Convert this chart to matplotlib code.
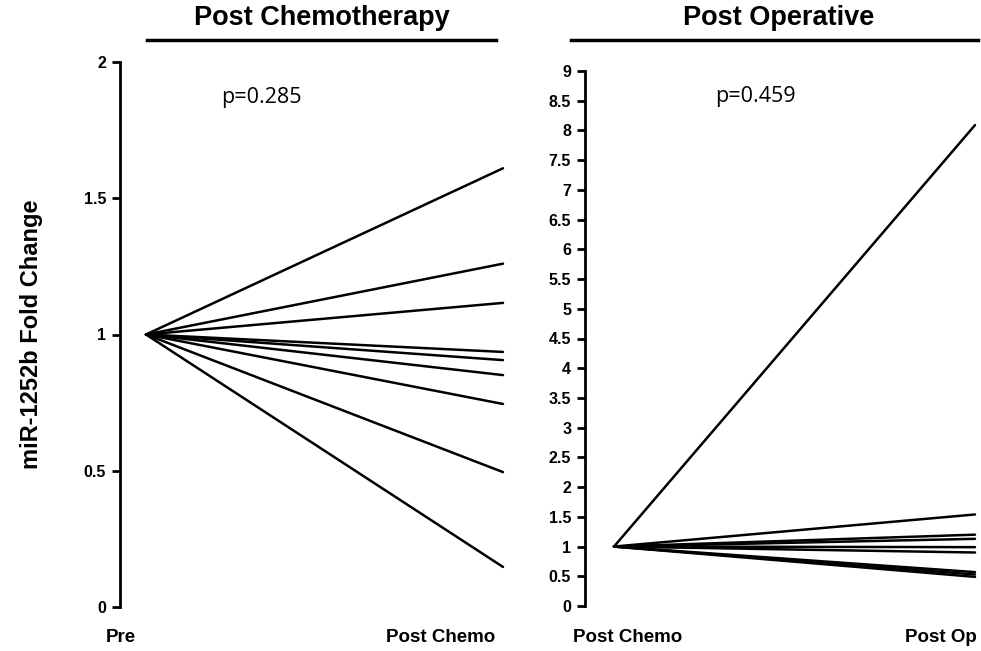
import numpy as np
import matplotlib
matplotlib.use("Agg")
import matplotlib.pyplot as plt
from matplotlib.lines import Line2D

plt.rcParams['font.family'] = ['Liberation Sans', 'DejaVu Sans']

# fold change per patient, baseline normalised to 1
chemo_start = 1.0
chemo_end = [1.61, 1.26, 1.116, 0.936, 0.906, 0.851, 0.745, 0.495, 0.147]
op_start = 1.0
op_end = [8.09, 1.54, 1.20, 1.13, 0.99, 0.90, 0.57, 0.53, 0.49]

left_ticks = [0, 0.5, 1, 1.5, 2]
left_ticklabels = ['0', '0.5', '1', '1.5', '2']
right_ticks = np.arange(0, 9.5, 0.5)
right_ticklabels = ['%g' % t for t in right_ticks]

W, H = 981, 651
fig = plt.figure(figsize=(W / 100, H / 100), dpi=100)


def px_axes(x0, x1, ytop, ybot):
    return fig.add_axes([x0 / W, (H - ybot) / H, (x1 - x0) / W, (ybot - ytop) / H])


def style(ax, ticks, labels):
    for s in ['top', 'right', 'bottom']:
        ax.spines[s].set_visible(False)
    ax.spines['left'].set_linewidth(2)
    ax.set_yticks(ticks)
    ax.set_yticklabels(labels, fontweight='bold', fontsize=11.5)
    ax.tick_params(axis='y', length=6, width=2, pad=4)
    ax.set_xticks([])


# left panel: Pre -> Post Chemo
ax1 = px_axes(120, 510, 62, 607)
x_pre, x_post = 146, 503
span = x_post - x_pre
ax1.set_xlim((120 - x_pre) / span, (510 - x_pre) / span)
ax1.set_ylim(0, 2)
for v in chemo_end:
    ax1.plot([0, 1], [chemo_start, v], color='black', lw=1.8, solid_capstyle='round')
style(ax1, left_ticks, left_ticklabels)
ax1.set_ylabel('miR-1252b Fold Change', fontsize=17, fontweight='bold', labelpad=29)
ax1.text(0.21, 1.87, 'p=0.285', fontsize=15.5, family='Open Sans', ha='left', va='center')

# right panel: Post Chemo -> Post Op
ax2 = px_axes(585, 980, 71, 606)
x_a, x_b = 614, 975
span2 = x_b - x_a
ax2.set_xlim((585 - x_a) / span2, (980 - x_a) / span2)
ax2.set_ylim(0, 9)
for v in op_end:
    ax2.plot([0, 1], [op_start, v], color='black', lw=1.8, solid_capstyle='round')
style(ax2, right_ticks, right_ticklabels)
ax2.text(0.28, 8.57, 'p=0.459', fontsize=15.5, family='Open Sans', ha='left', va='center')

# group labels under each panel
lab_y = 1 - 637 / H
for x, s in [(121, 'Pre'), (441, 'Post Chemo'), (628, 'Post Chemo'), (941, 'Post Op')]:
    fig.text(x / W, lab_y, s, fontsize=13.5, fontweight='bold', ha='center', va='center')

# panel headers with rules underneath
for xc, x0, x1, s in [(322, 147, 496, 'Post Chemotherapy'), (779, 571, 978, 'Post Operative')]:
    fig.text(xc / W, 1 - 18 / H, s, fontsize=19.5, fontweight='bold', ha='center', va='center')
    fig.add_artist(Line2D([x0 / W, x1 / W], [1 - 40 / H, 1 - 40 / H], color='black', lw=2.5))

fig.savefig('out.png', dpi=100)
